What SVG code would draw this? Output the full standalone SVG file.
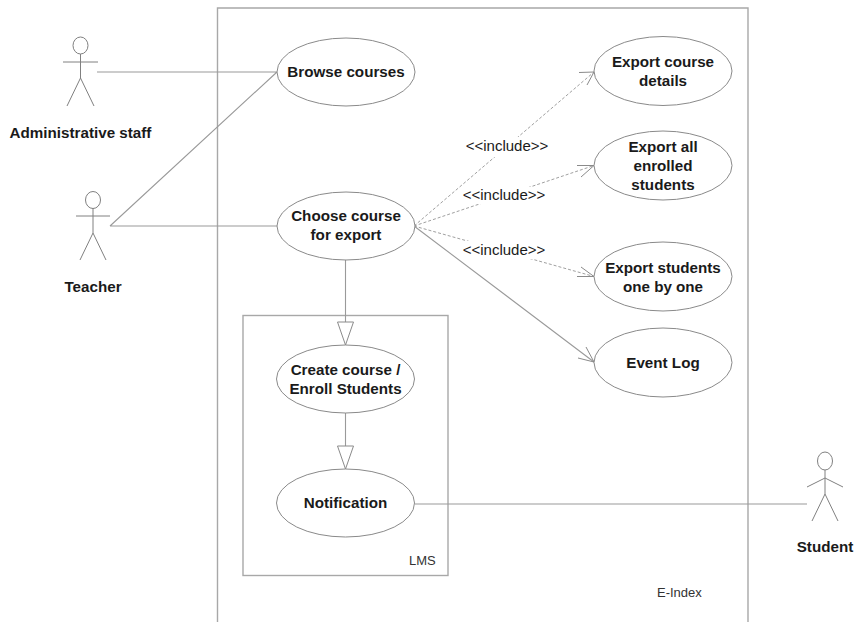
<svg xmlns="http://www.w3.org/2000/svg" width="855" height="622" viewBox="0 0 855 622">
<style>
.frame{fill:none;stroke:#a8a8a8;stroke-width:1.4}
.uc{fill:#fff;stroke:#8a8a8a;stroke-width:1}
.act{fill:none;stroke:#808080;stroke-width:1}
.ln{fill:none;stroke:#9a9a9a;stroke-width:1.1}
.dash{fill:none;stroke:#a0a0a0;stroke-width:1;stroke-dasharray:3 2}
.tri{fill:#fff;stroke:#8a8a8a;stroke-width:1}
.ah{fill:none;stroke:#8a8a8a;stroke-width:1}
text{font-family:"Liberation Sans",Arial,sans-serif;fill:#1a1a1a}
.b{font-size:15.2px;font-weight:bold;text-anchor:middle}
.r{font-size:15px;text-anchor:middle}
.s{font-size:13px;fill:#333}
.bg{fill:#fff}
</style>
<g id="frames">
<path class="frame" d="M217.500 622V8H748V622"/>
<rect class="frame" x="243" y="315.500" width="205" height="260"/>
<text class="s" x="409" y="565">LMS</text>
<text class="s" x="657" y="597">E-Index</text>
</g>
<g id="connectors">
<path class="ln" d="M97 72H277M110 226L277 72M110 226H277M345.500 260V322M345.500 413V446M415 504H807M414 226L594 362"/>
<path class="dash" d="M414 226L594 72M414 226L594 165.500M414 226L594 276.500"/>
<path class="ah" d="M579 72.500L594 72L587 85M577 165.500L594 165.500L581 177M577 276.500L594 276.500L581 267M578 358L594 362L586 347"/>
<path class="tri" d="M337.500 322H353.500L345.500 345ZM337.500 446H353.500L345.500 469Z"/>
<rect class="bg" x="464" y="137" width="86" height="20"/>
<rect class="bg" x="462" y="187" width="86" height="17"/>
<rect class="bg" x="462" y="241" width="86" height="18"/>
<text class="r" x="507" y="151">&lt;&lt;include&gt;&gt;</text>
<text class="r" x="504" y="200">&lt;&lt;include&gt;&gt;</text>
<text class="r" x="504" y="255">&lt;&lt;include&gt;&gt;</text>
</g>
<g id="actor-admin">
<ellipse class="act" cx="80.500" cy="45.500" rx="7.500" ry="8.500"/>
<path class="act" d="M80.500 54V78M63 62H98M80.500 78L67 106M80.500 78L94 106"/>
<text class="b" x="80.500" y="138">Administrative staff</text>
</g>
<g id="actor-teacher">
<ellipse class="act" cx="93" cy="200" rx="7.500" ry="8.500"/>
<path class="act" d="M93 208V233M76 216H110M93 233L80 260M93 233L106 260"/>
<text class="b" x="93" y="292">Teacher</text>
</g>
<g id="actor-student">
<ellipse class="act" cx="825" cy="461" rx="7.500" ry="9"/>
<path class="act" d="M825 470V494M807 487L825 478L843 487M825 494L812 521M825 494L838 521"/>
<text class="b" x="825" y="552">Student</text>
</g>
<g id="uc-browse">
<ellipse class="uc" cx="346" cy="72" rx="69" ry="34"/>
<text class="b" x="346" y="77">Browse courses</text>
</g>
<g id="uc-choose">
<ellipse class="uc" cx="346" cy="226" rx="69" ry="34"/>
<text class="b" x="346" y="221">Choose course</text>
<text class="b" x="346" y="240">for export</text>
</g>
<g id="uc-create">
<ellipse class="uc" cx="345.500" cy="379" rx="69" ry="34"/>
<text class="b" x="345.500" y="375">Create course /</text>
<text class="b" x="345.500" y="394">Enroll Students</text>
</g>
<g id="uc-notification">
<ellipse class="uc" cx="345.500" cy="503" rx="69" ry="34"/>
<text class="b" x="345.500" y="508">Notification</text>
</g>
<g id="uc-export-details">
<ellipse class="uc" cx="663" cy="71" rx="69" ry="34.500"/>
<text class="b" x="663" y="67">Export course</text>
<text class="b" x="663" y="86">details</text>
</g>
<g id="uc-export-all">
<ellipse class="uc" cx="663" cy="165.500" rx="69" ry="34.500"/>
<text class="b" x="663" y="152">Export all</text>
<text class="b" x="663" y="171">enrolled</text>
<text class="b" x="663" y="190">students</text>
</g>
<g id="uc-export-one">
<ellipse class="uc" cx="663" cy="276.500" rx="69" ry="34.500"/>
<text class="b" x="663" y="273">Export students</text>
<text class="b" x="663" y="292">one by one</text>
</g>
<g id="uc-event-log">
<ellipse class="uc" cx="663" cy="362.500" rx="69" ry="34.500"/>
<text class="b" x="663" y="368">Event Log</text>
</g>
</svg>
